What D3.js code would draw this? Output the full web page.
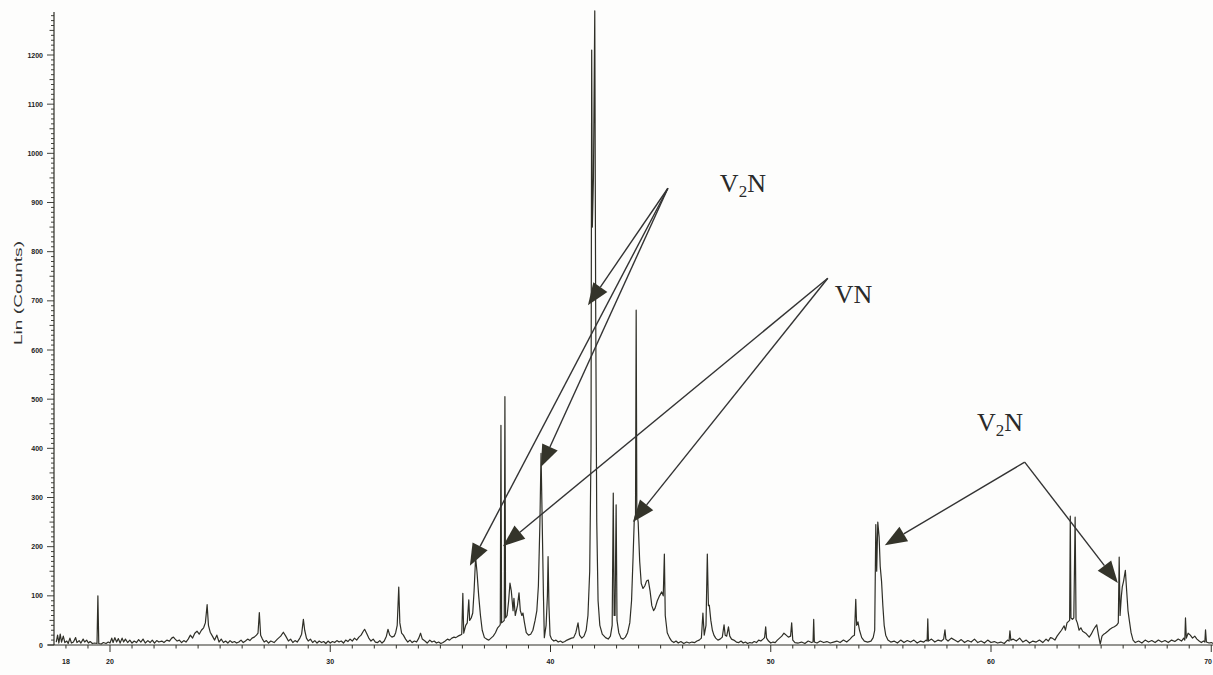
<!DOCTYPE html>
<html><head><meta charset="utf-8">
<script src="https://cdn.jsdelivr.net/npm/d3@7"></script>
<style>body{margin:0;background:#fff}svg{display:block}</style>
</head><body><svg id="c" width="1213" height="675"></svg>
<script>
// ---- data ----
const yTickValues = [0,100,200,300,400,500,600,700,800,900,1000,1100,1200];
const xTickLabels = [18,20,30,40,50,60,70];
const yTitle = "Lin (Counts)";

// XRD pattern: [2-theta, counts]
const pattern = [
[17.56,6],[17.62,20],[17.68,4],[17.74,22],[17.8,6],[17.88,18],[17.95,5],[18.04,8],[18.1,3],[18.18,14],[18.25,4],[18.34,6],[18.44,15],[18.5,5],[18.6,9],[18.68,4],[18.78,12],[18.85,6],[18.94,10],[19.02,4],[19.1,7],[19.2,3],[19.3,4],[19.41,3],[19.45,100],[19.49,3],[19.6,2],[19.7,5],[19.82,3],[19.92,6],
[20.0,4],[20.08,14],[20.14,5],[20.22,15],[20.3,6],[20.38,13],[20.46,4],[20.55,14],[20.62,6],[20.7,12],[20.8,5],[20.9,10],[21.0,4],[21.1,8],[21.2,5],[21.3,11],[21.4,6],[21.5,12],[21.6,4],[21.72,9],[21.82,5],[21.92,10],[22.02,4],[22.12,9],[22.22,6],[22.35,8],[22.45,5],[22.58,10],[22.7,8],[22.8,14],[22.88,16],[22.96,12],[23.05,8],[23.15,10],[23.25,5],[23.35,9],[23.45,6],[23.55,12],[23.65,20],[23.75,14],[23.85,24],[23.95,28],[24.05,22],[24.15,30],[24.25,35],[24.33,45],[24.41,82],[24.47,40],[24.55,26],[24.65,18],[24.75,10],[24.85,20],[24.95,6],
[25.05,12],[25.15,5],[25.25,8],[25.35,4],[25.45,9],[25.55,5],[25.65,7],[25.75,4],[25.85,6],[25.95,10],[26.05,5],[26.15,8],[26.25,12],[26.35,9],[26.45,14],[26.55,16],[26.65,20],[26.72,24],[26.78,66],[26.84,20],[26.92,12],[27.0,6],[27.1,9],[27.2,4],[27.3,8],[27.45,5],[27.6,12],[27.75,18],[27.87,26],[27.98,18],[28.1,8],[28.2,12],[28.3,5],[28.4,9],[28.5,6],[28.62,14],[28.7,22],[28.78,52],[28.84,30],[28.92,14],[29.0,8],[29.1,12],[29.2,5],[29.3,9],[29.4,4],[29.5,8],[29.6,5],[29.7,7],[29.8,3],[29.9,8],
[30.0,4],[30.1,7],[30.2,5],[30.3,9],[30.4,6],[30.5,8],[30.6,4],[30.7,10],[30.8,7],[30.9,12],[31.0,8],[31.1,14],[31.2,10],[31.3,16],[31.4,20],[31.5,28],[31.56,32],[31.65,24],[31.75,14],[31.85,8],[31.95,12],[32.05,6],[32.15,5],[32.25,9],[32.35,4],[32.45,8],[32.55,18],[32.62,32],[32.7,20],[32.8,16],[32.9,18],[32.97,25],[33.04,40],[33.11,118],[33.16,45],[33.24,24],[33.32,20],[33.42,12],[33.52,6],[33.62,10],[33.72,5],[33.82,8],[33.92,6],[34.02,14],[34.1,24],[34.18,12],[34.3,8],[34.4,4],[34.52,10],[34.62,6],[34.72,8],[34.82,4],[34.92,6],
[35.02,3],[35.12,5],[35.22,8],[35.32,12],[35.42,10],[35.52,14],[35.62,16],[35.7,15],[35.8,18],[35.9,20],[35.97,22],[36.02,105],[36.06,24],[36.15,40],[36.22,45],[36.29,92],[36.33,50],[36.4,55],[36.47,65],[36.53,110],[36.6,178],[36.66,150],[36.74,100],[36.82,60],[36.9,30],[37.0,15],[37.1,12],[37.2,10],[37.3,14],[37.4,18],[37.5,25],[37.6,35],[37.7,40],[37.72,42],[37.75,447],[37.78,45],[37.86,48],[37.9,50],[37.93,505],[37.96,55],[38.03,60],[38.1,90],[38.16,126],[38.22,110],[38.3,70],[38.34,95],[38.4,60],[38.5,80],[38.57,106],[38.63,70],[38.7,60],[38.75,65],[38.82,45],[38.9,25],[39.0,20],[39.1,22],[39.2,30],[39.3,50],[39.38,70],[39.45,120],[39.52,250],[39.57,390],[39.62,260],[39.68,100],[39.72,15],[39.8,40],[39.86,100],[39.89,180],[39.93,80],[39.98,20],
[40.05,12],[40.15,8],[40.25,10],[40.35,6],[40.45,8],[40.55,5],[40.65,7],[40.75,10],[40.85,12],[40.95,14],[41.05,15],[41.15,25],[41.25,45],[41.32,20],[41.42,14],[41.52,18],[41.62,30],[41.7,60],[41.78,150],[41.84,400],[41.87,1210],[41.9,850],[41.95,950],[42.01,1290],[42.05,700],[42.1,250],[42.16,90],[42.24,40],[42.35,22],[42.5,15],[42.62,12],[42.72,18],[42.8,40],[42.85,309],[42.89,60],[42.93,60],[42.98,285],[43.02,50],[43.1,25],[43.2,14],[43.3,12],[43.4,16],[43.5,25],[43.6,45],[43.68,90],[43.75,180],[43.8,250],[43.86,265],[43.89,681],[43.92,270],[43.98,250],[44.05,170],[44.12,125],[44.2,115],[44.28,120],[44.36,130],[44.44,132],[44.52,110],[44.6,80],[44.68,70],[44.75,75],[44.85,90],[44.95,100],[45.05,108],[45.12,100],[45.17,185],[45.21,60],[45.3,25],[45.4,15],[45.5,8],[45.6,5],[45.7,8],[45.8,4],[45.92,7],
[46.05,3],[46.18,6],[46.3,4],[46.42,6],[46.55,5],[46.65,8],[46.75,10],[46.85,14],[46.92,65],[46.98,20],[47.06,40],[47.12,185],[47.17,80],[47.21,81],[47.28,50],[47.35,30],[47.42,20],[47.5,14],[47.6,10],[47.7,12],[47.8,16],[47.88,41],[47.93,20],[48.0,18],[48.08,37],[48.14,18],[48.22,12],[48.32,10],[48.44,6],[48.55,5],[48.65,8],[48.75,4],[48.85,6],[48.95,3],[49.05,5],[49.15,4],[49.25,7],[49.35,5],[49.45,10],[49.55,8],[49.65,12],[49.72,15],[49.77,37],[49.81,14],[49.9,8],
[50.0,4],[50.1,6],[50.2,5],[50.3,10],[50.4,14],[50.5,18],[50.6,24],[50.7,20],[50.8,16],[50.9,18],[50.95,45],[51.0,10],[51.1,5],[51.25,4],[51.4,6],[51.55,3],[51.7,8],[51.85,5],[51.92,6],[51.95,52],[51.98,6],[52.1,4],[52.25,8],[52.4,5],[52.55,7],[52.7,4],[52.85,6],[53.0,8],[53.15,5],[53.3,10],[53.45,6],[53.6,12],[53.72,18],[53.8,20],[53.86,93],[53.9,40],[53.96,47],[54.03,30],[54.13,15],[54.25,8],[54.4,6],[54.55,8],[54.65,15],[54.72,30],[54.77,245],[54.81,150],[54.86,250],[54.92,220],[54.97,160],[55.03,130],[55.09,80],[55.15,40],[55.22,20],[55.32,10],[55.45,6],[55.6,8],[55.75,4],[55.9,10],
[56.05,5],[56.2,9],[56.35,6],[56.5,10],[56.65,4],[56.8,8],[56.95,6],[57.05,10],[57.1,8],[57.13,53],[57.16,8],[57.3,12],[57.45,6],[57.6,10],[57.75,8],[57.85,12],[57.91,31],[57.95,12],[58.05,8],[58.2,14],[58.35,10],[58.5,6],[58.65,11],[58.8,5],[58.95,9],[59.1,6],[59.25,12],[59.4,5],[59.55,8],[59.7,4],[59.85,10],
[60.0,5],[60.15,7],[60.3,4],[60.45,6],[60.6,3],[60.75,10],[60.82,8],[60.86,29],[60.9,10],[61.0,12],[61.15,8],[61.3,14],[61.45,6],[61.6,10],[61.75,4],[61.9,8],[62.05,6],[62.2,10],[62.35,5],[62.5,12],[62.6,8],[62.7,15],[62.78,14],[62.9,10],[63.0,18],[63.1,24],[63.2,30],[63.28,36],[63.32,39],[63.38,30],[63.45,45],[63.52,48],[63.57,50],[63.6,262],[63.63,55],[63.7,52],[63.76,55],[63.82,260],[63.86,52],[63.92,45],[64.0,30],[64.08,35],[64.16,28],[64.23,26],[64.3,24],[64.38,20],[64.46,16],[64.55,22],[64.64,30],[64.72,36],[64.8,41],[64.88,20],[64.96,2],
[65.04,18],[65.12,22],[65.19,24],[65.3,28],[65.4,32],[65.5,35],[65.6,37],[65.7,40],[65.78,45],[65.82,179],[65.86,60],[65.92,100],[65.96,118],[66.02,130],[66.1,152],[66.16,110],[66.22,70],[66.28,50],[66.36,25],[66.45,10],[66.55,5],[66.7,8],[66.85,4],[67.0,10],[67.15,6],[67.3,9],[67.45,5],[67.6,10],[67.75,6],[67.9,9],[68.05,5],[68.2,10],[68.35,7],[68.5,12],[68.65,8],[68.75,14],[68.8,10],[68.83,55],[68.87,14],[68.95,24],[69.05,20],[69.15,14],[69.25,18],[69.35,12],[69.45,8],[69.55,5],[69.65,8],[69.71,6],[69.74,31],[69.78,6],[69.9,4],[70.0,5],[70.1,3]
];

// annotations (data coordinates: 2-theta, counts)
const annotations = [
  {label:["V","2","N"], at:[47.69, 921], from:[45.33, 929], tips:[[41.70, 691],[39.56, 362],[36.34, 161]]},
  {label:["VN"],        at:[52.91, 696], from:[52.59, 746], tips:[[37.84, 201],[43.74, 250]]},
  {label:["V","2","N"], at:[59.36, 435], from:[61.53, 372], tips:[[55.18, 203],[65.76, 126]]}
];

// ---- drawing ----
const svg = d3.select("#c");
const ink = "#2f2f27";
const x = d3.scaleLinear().domain([20, 60]).range([110, 991]);
const y = d3.scaleLinear().domain([0, 1200]).range([645, 55]);
const x0 = 54; // y-axis position
const yTop = 12;

svg.append("rect").attr("width",1213).attr("height",675).attr("fill","#fdfdfc");

// x axis
const gx = svg.append("g").attr("transform", `translate(0,${y(0)})`);
gx.append("line").attr("x1",48).attr("x2",1213).attr("stroke",ink).attr("stroke-width",1.2);
gx.selectAll("line.minor").data(d3.range(18,71)).join("line")
  .attr("class","minor")
  .attr("x1",d=>x(d)).attr("x2",d=>x(d))
  .attr("y1",0).attr("y2",d=>d%10===0?7:3.5)
  .attr("stroke",ink).attr("stroke-width",1);
gx.selectAll("text").data(xTickLabels).join("text")
  .attr("x",d=> d===70 ? 1212 : x(d)).attr("y",19)
  .attr("text-anchor",d=> d===70 ? "end" : "middle")
  .attr("font-family","Liberation Sans, Arial, sans-serif")
  .attr("font-size",7).attr("font-weight","bold").attr("fill","#222")
  .text(d=>d);

// y axis
const gy = svg.append("g");
gy.append("line").attr("x1",x0).attr("x2",x0).attr("y1",y(0)).attr("y2",yTop)
  .attr("stroke",ink).attr("stroke-width",1.2);
gy.selectAll("line.minor").data(d3.range(0,1290,10)).join("line")
  .attr("class","minor")
  .attr("x1",d=>x0-(d%100===0?7:(d%50===0?4.5:3))).attr("x2",x0)
  .attr("y1",d=>y(d)).attr("y2",d=>y(d))
  .attr("stroke",ink).attr("stroke-width",0.9);
gy.selectAll("text").data(yTickValues).join("text")
  .attr("x",43).attr("y",d=>y(d)+2.5)
  .attr("text-anchor","end")
  .attr("font-family","Liberation Sans, Arial, sans-serif")
  .attr("font-size",7).attr("font-weight","bold").attr("fill","#222")
  .text(d=>d);
svg.append("text")
  .attr("transform","translate(22,293) rotate(-90)")
  .attr("text-anchor","middle")
  .attr("font-family","Liberation Sans, Arial, sans-serif")
  .attr("font-size",10).attr("fill","#333")
  .attr("textLength",104).attr("lengthAdjust","spacingAndGlyphs")
  .text(yTitle);

// trace
const line = d3.line().x(d=>x(d[0])).y(d=>y(d[1]));
svg.append("path").datum(pattern)
  .attr("d",line).attr("fill","none")
  .attr("stroke",ink).attr("stroke-width",1.2).attr("stroke-linejoin","round");

// annotations
const headLen = 22, headHalf = 8.5;
annotations.forEach(a => {
  const ox = x(a.from[0]), oy = y(a.from[1]);
  a.tips.forEach(t => {
    const tx = x(t[0]), ty = y(t[1]);
    const dx = tx-ox, dy = ty-oy, L = Math.hypot(dx,dy);
    const ux = dx/L, uy = dy/L;
    const bx = tx-ux*headLen, by = ty-uy*headLen;
    svg.append("line").attr("x1",ox).attr("y1",oy).attr("x2",bx).attr("y2",by)
      .attr("stroke","#333").attr("stroke-width",1.4);
    svg.append("path")
      .attr("d",`M${tx},${ty}L${bx-uy*headHalf},${by+ux*headHalf}L${bx+uy*headHalf},${by-ux*headHalf}Z`)
      .attr("fill","#34342a");
  });
  const t = svg.append("text").attr("x",x(a.at[0])).attr("y",y(a.at[1]))
    .attr("font-family","Liberation Serif, Times New Roman, serif")
    .attr("font-size",26).attr("fill","#2a2a2a");
  if (a.label.length === 3) {
    t.append("tspan").text(a.label[0]);
    t.append("tspan").attr("font-size",17).attr("dy",5).text(a.label[1]);
    t.append("tspan").attr("dy",-5).text(a.label[2]);
  } else {
    t.text(a.label[0]);
  }
});
</script>
</body></html>
